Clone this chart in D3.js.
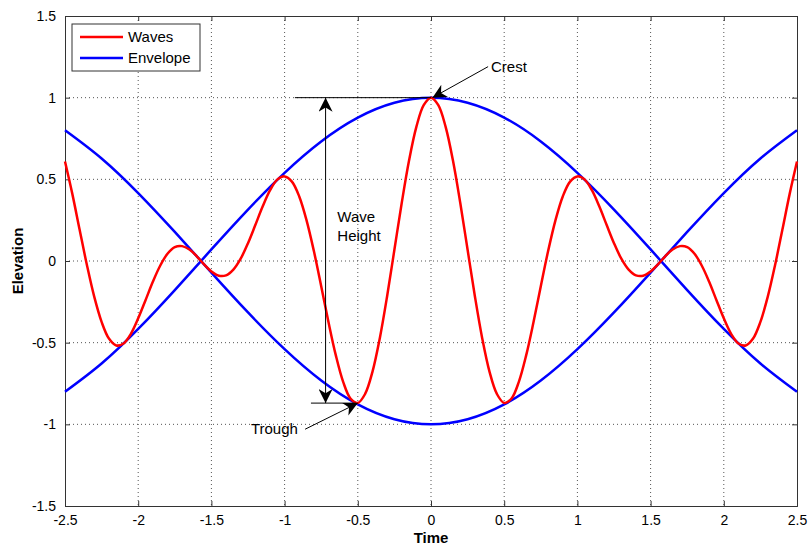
<!DOCTYPE html>
<html>
<head>
<meta charset="utf-8">
<script src="https://cdn.jsdelivr.net/npm/d3@7"></script>
<style>
  body { margin: 0; background: #fff; }
  text { font-family: "Liberation Sans", Arial, sans-serif; }
</style>
</head>
<body>
<div id="chart"></div>
<script>
// values
const waveX = [-2.5, -2.45, -2.4, -2.35, -2.3, -2.25, -2.2, -2.15, -2.1, -2.05, -2.0, -1.95, -1.9, -1.85, -1.8, -1.75, -1.7, -1.65, -1.6, -1.55,
  -1.5, -1.45, -1.4, -1.35, -1.3, -1.25, -1.2, -1.15, -1.1, -1.05, -1.0, -0.95, -0.9, -0.85, -0.8, -0.75, -0.7, -0.65, -0.6, -0.55,
  -0.5, -0.45, -0.4, -0.35, -0.3, -0.25, -0.2, -0.15, -0.1, -0.05, 0,
  0.05, 0.1, 0.15, 0.2, 0.25, 0.3, 0.35, 0.4, 0.45, 0.5, 0.55, 0.6, 0.65, 0.7, 0.75, 0.8, 0.85, 0.9, 0.95, 1.0,
  1.05, 1.1, 1.15, 1.2, 1.25, 1.3, 1.35, 1.4, 1.45, 1.5, 1.55, 1.6, 1.65, 1.7, 1.75, 1.8, 1.85, 1.9, 1.95, 2.0,
  2.05, 2.1, 2.15, 2.2, 2.25, 2.3, 2.35, 2.4, 2.45, 2.5]
const waveY = [0.609, 0.411, 0.191, -0.026, -0.220, -0.373, -0.475, -0.517, -0.505, -0.446, -0.351, -0.240, -0.127, -0.029, 0.044, 0.085, 0.091, 0.070, 0.029, -0.021,
  -0.064, -0.090, -0.088, -0.053, 0.014, 0.109, 0.220, 0.333, 0.432, 0.498, 0.518, 0.486, 0.395, 0.249, 0.061, -0.154, -0.375, -0.578, -0.740, -0.842,
  -0.869, -0.814, -0.679, -0.474, -0.217, 0.069, 0.355, 0.615, 0.821, 0.954, 1,
  0.954, 0.821, 0.615, 0.355, 0.069, -0.217, -0.474, -0.679, -0.814, -0.869, -0.842, -0.740, -0.578, -0.375, -0.154, 0.061, 0.249, 0.395, 0.486, 0.518,
  0.498, 0.432, 0.333, 0.220, 0.109, 0.014, -0.053, -0.088, -0.090, -0.064, -0.021, 0.029, 0.070, 0.091, 0.085, 0.044, -0.029, -0.127, -0.240, -0.351,
  -0.446, -0.505, -0.517, -0.475, -0.373, -0.220, -0.026, 0.191, 0.411, 0.609]

const envX = [-2.5, -2.25, -2.0, -1.75, -1.5, -1.25, -1.0, -0.75, -0.5, -0.25, 0, 0.25, 0.5, 0.75, 1.0, 1.25, 1.5, 1.75, 2.0, 2.25, 2.5]
const envUpper = [-0.801, -0.628, -0.416, -0.178, 0.071, 0.315, 0.540, 0.732, 0.878, 0.969, 1, 0.969, 0.878, 0.732, 0.540, 0.315, 0.071, -0.178, -0.416, -0.628, -0.801]
const envLower = [0.801, 0.628, 0.416, 0.178, -0.071, -0.315, -0.540, -0.732, -0.878, -0.969, -1, -0.969, -0.878, -0.732, -0.540, -0.315, -0.071, 0.178, 0.416, 0.628, 0.801]

const xTicks = [-2.5, -2, -1.5, -1, -0.5, 0, 0.5, 1, 1.5, 2, 2.5]
const yTicks = [-1.5, -1, -0.5, 0, 0.5, 1, 1.5]

const w = 808
const h = 547
const padL = 65, padR = 797, padT = 16, padB = 506

const x = d3.scaleLinear().domain([-2.5, 2.5]).range([padL, padR])
const y = d3.scaleLinear().domain([-1.5, 1.5]).range([padB, padT])

const svg = d3.select('#chart').append('svg')
    .attr('width', w)
    .attr('height', h)

svg.append('defs').append('marker')
    .attr('id', 'head')
    .attr('viewBox', '0 0 10 10')
    .attr('refX', 10)
    .attr('refY', 5)
    .attr('markerWidth', 14)
    .attr('markerHeight', 14)
    .attr('markerUnits', 'userSpaceOnUse')
    .attr('orient', 'auto-start-reverse')
    .append('path')
    .attr('d', 'M0,0 L10,5 L0,10 L3,5 Z')
    .attr('fill', '#000')

// grid
svg.append('g')
    .selectAll('line')
    .data(xTicks.slice(1, -1))
    .enter()
    .append('line')
    .attr('x1', d => x(d)).attr('x2', d => x(d))
    .attr('y1', padT).attr('y2', padB)
    .attr('stroke', '#555')
    .attr('stroke-dasharray', '1,3')

svg.append('g')
    .selectAll('line')
    .data(yTicks.slice(1, -1))
    .enter()
    .append('line')
    .attr('y1', d => y(d)).attr('y2', d => y(d))
    .attr('x1', padL).attr('x2', padR)
    .attr('stroke', '#555')
    .attr('stroke-dasharray', '1,3')

// axes, ticks inward on all sides
const fmt = d => String(d)
svg.append('g')
    .attr('transform', 'translate(0,' + padB + ')')
    .call(d3.axisBottom(x).tickValues(xTicks).tickSize(-5).tickPadding(9).tickFormat(fmt))
svg.append('g')
    .attr('transform', 'translate(0,' + padT + ')')
    .call(d3.axisTop(x).tickValues(xTicks).tickSize(-5).tickFormat(''))
svg.append('g')
    .attr('transform', 'translate(' + padL + ',0)')
    .call(d3.axisLeft(y).tickValues(yTicks).tickSize(-5).tickPadding(9).tickFormat(fmt))
svg.append('g')
    .attr('transform', 'translate(' + padR + ',0)')
    .call(d3.axisRight(y).tickValues(yTicks).tickSize(-5).tickFormat(''))

svg.selectAll('.domain').attr('stroke', '#333')
svg.selectAll('.tick line').attr('stroke', '#333')
svg.selectAll('.tick text')
    .attr('font-size', 14)
    .attr('font-family', '"Liberation Sans", Arial, sans-serif')
    .attr('fill', '#000')

// curves
const line = (xs, ys, curve) => d3.line()
    .x((d, i) => x(xs[i]))
    .y(d => y(d))
    .curve(curve)(ys)

svg.append('path')
    .attr('d', line(envX, envUpper, d3.curveNatural))
    .attr('fill', 'none').attr('stroke', '#0000ff').attr('stroke-width', 2.5)
svg.append('path')
    .attr('d', line(envX, envLower, d3.curveNatural))
    .attr('fill', 'none').attr('stroke', '#0000ff').attr('stroke-width', 2.5)
svg.append('path')
    .attr('d', line(waveX, waveY, d3.curveCatmullRom))
    .attr('fill', 'none').attr('stroke', '#ff0000').attr('stroke-width', 2.5)

// annotations
const ann = svg.append('g').attr('stroke', '#000').attr('stroke-width', 1)
ann.append('line')
    .attr('x1', x(-0.93)).attr('x2', x(0)).attr('y1', y(1)).attr('y2', y(1))
ann.append('line')
    .attr('x1', x(-0.82)).attr('x2', x(-0.51)).attr('y1', y(-0.87)).attr('y2', y(-0.87))
ann.append('line')
    .attr('x1', x(-0.72)).attr('x2', x(-0.72)).attr('y1', y(-0.87)).attr('y2', y(1))
    .attr('marker-start', 'url(#head)').attr('marker-end', 'url(#head)')
ann.append('line')
    .attr('x1', x(0.39)).attr('y1', y(1.19)).attr('x2', x(0.01)).attr('y2', y(1.0))
    .attr('marker-end', 'url(#head)')
ann.append('line')
    .attr('x1', x(-0.86)).attr('y1', y(-1.03)).attr('x2', x(-0.5)).attr('y2', y(-0.87))
    .attr('marker-end', 'url(#head)')

svg.append('text').text('Crest')
    .attr('x', x(0.41)).attr('y', y(1.19) + 5).attr('font-size', 15)
svg.append('text').text('Trough')
    .attr('x', x(-1.23)).attr('y', y(-1.03) + 5).attr('font-size', 15)
svg.append('text').text('Wave')
    .attr('x', x(-0.64)).attr('y', y(0.24)).attr('font-size', 15)
svg.append('text').text('Height')
    .attr('x', x(-0.64)).attr('y', y(0.12)).attr('font-size', 15)

// axis titles
svg.append('text').text('Time')
    .attr('x', x(0)).attr('y', 543)
    .attr('text-anchor', 'middle').attr('font-size', 15).attr('font-weight', 'bold')
svg.append('text').text('Elevation')
    .attr('transform', 'translate(23,' + y(0) + ') rotate(-90)')
    .attr('text-anchor', 'middle').attr('font-size', 15).attr('font-weight', 'bold')

// legend
const legend = svg.append('g').attr('transform', 'translate(72,24)')
legend.append('rect')
    .attr('width', 128).attr('height', 47)
    .attr('fill', '#fff').attr('stroke', '#333')
const legendItems = [['Waves', '#ff0000'], ['Envelope', '#0000ff']]
legendItems.forEach((d, i) => {
    legend.append('line')
        .attr('x1', 8).attr('x2', 51)
        .attr('y1', 13 + i * 21).attr('y2', 13 + i * 21)
        .attr('stroke', d[1]).attr('stroke-width', 2.5)
    legend.append('text').text(d[0])
        .attr('x', 56).attr('y', 18 + i * 21).attr('font-size', 15)
})
</script>
</body>
</html>
